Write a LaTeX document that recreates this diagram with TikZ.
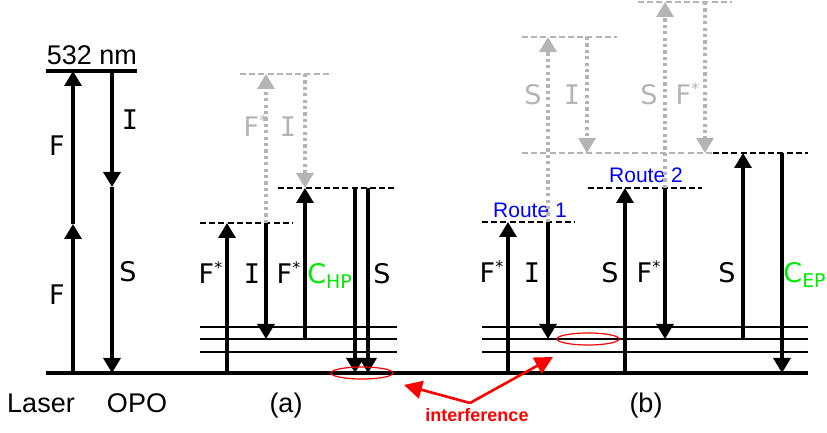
\documentclass[tikz,border=0pt]{standalone}
\usepackage{fontspec}
\setmainfont{Liberation Sans}
\newfontfamily\labfont{DejaVu Sans}
\newfontfamily\slabfont{DejaVu Sans Mono}
\newcommand{\slabI}{{\slabfont I}}
\newcommand{\fstar}{F\textsuperscript{\fontsize{8}{8}\selectfont *}}
\usetikzlibrary{arrows.meta}

\definecolor{ghostgray}{RGB}{180,180,180}
\definecolor{chgreen}{RGB}{0,235,0}
\definecolor{routeblue}{RGB}{0,0,255}
\definecolor{ifred}{RGB}{255,0,0}

\tikzset{
  ground/.style={line width=1.6pt},
  level/.style={line width=0.65pt},
  virtual/.style={line width=0.8pt, dash pattern=on 3pt off 1.6pt},
  ghostlevel/.style={virtual, draw=ghostgray},
  beam/.style={line width=1.6pt, -{Triangle[width=8.5pt,length=7.5pt]}},
  ghostbeam/.style={beam, color=ghostgray, dash pattern=on 1.6pt off 1.6pt},
  txt/.style={anchor=base, inner sep=0pt, font=\fontsize{13.5}{16}\selectfont},
  lab/.style={anchor=base, inner sep=0pt, font=\labfont\fontsize{13.5}{16}\selectfont},
  ghostlab/.style={lab, text=ghostgray},
  routelab/.style={anchor=base, inner sep=0pt, text=routeblue, font=\fontsize{10.5}{12}\selectfont},
  ring/.style={draw=ifred, line width=0.6pt},
  ifarrow/.style={draw=ifred, line width=1.3pt, -{Triangle[width=9pt,length=9pt]}, color=ifred}
}

\begin{document}
\begin{tikzpicture}[x=0.5pt,y=-0.5pt]
  \useasboundingbox (0,0) rectangle (827,433);

  % ground state
  \draw[ground] (46,373) -- (808,373);

  % Laser and OPO
  \draw[ground] (46,71) -- (137,71);
  \node[txt] (nm) at (92,65) {532 nm};
  \draw[beam] (73,373) -- (73,224);
  \draw[beam] (73,224) -- (73,71);
  \draw[beam] (112,71) -- (112,187);
  \draw[beam] (112,187) -- (112,373);
  \node[lab] (lasF1) at (57,156) {F};
  \node[lab] (lasF2) at (57,305) {F};
  \node[lab] (opoI) at (130,130) {\slabI};
  \node[lab] (opoS) at (128,282) {S};
  \node[txt] (laser) at (41,413) {Laser};
  \node[txt] (opo) at (137,413) {OPO};

  % (a) levels
  \foreach \y in {327,339,352}
    \draw[level] (200,\y) -- (397,\y);
  \draw[virtual] (200,223) -- (293,223);
  \draw[virtual] (278,188) -- (394,188);
  \draw[ghostlevel] (240,74) -- (332,74);

  % (a) transitions
  \draw[beam] (227,373) -- (227,223);
  \draw[ghostbeam] (266,223) -- (266,74);
  \draw[beam] (266,223) -- (266,339);
  \draw[ghostbeam] (305,74) -- (305,188);
  \draw[beam] (305,339) -- (305,188);
  \draw[beam] (355,188) -- (355,373);
  \draw[beam] (368,188) -- (368,373);
  \node[lab] (aF1) at (211,284) {\fstar};
  \node[lab] (aI) at (252,284) {\slabI};
  \node[lab] (aF2) at (289,284) {\fstar};
  \node[lab, text=chgreen] (aC) at (330,284) {C\textsubscript{HP}};
  \node[lab] (aS) at (382,284) {S};
  \node[ghostlab] (agF) at (256,137) {\fstar};
  \node[ghostlab] (agI) at (288,137) {\slabI};
  \draw[ring] (362,373) ellipse (31 and 6);
  \node[txt] (alab) at (286,413) {(a)};

  % (b) levels
  \foreach \y in {327,339,352}
    \draw[level] (482,\y) -- (808,\y);
  \draw[virtual] (482,222) -- (575,222);
  \draw[virtual] (588,188) -- (702,188);
  \draw[ghostlevel] (522,153) -- (713,153);
  \draw[virtual] (713,153) -- (808,153);
  \draw[ghostlevel] (522,37) -- (617,37);
  \draw[ghostlevel] (638,2) -- (732,2);
  \node[routelab] (route1) at (530,218) {Route 1};
  \node[routelab] (route2) at (646,183) {Route 2};

  % (b) transitions
  \draw[beam] (508,373) -- (508,222);
  \draw[ghostbeam] (548,222) -- (548,37);
  \draw[beam] (548,222) -- (548,339);
  \draw[ghostbeam] (587,37) -- (587,153);
  \draw[beam] (625,373) -- (625,188);
  \draw[ghostbeam] (665,188) -- (665,2);
  \draw[beam] (665,188) -- (665,339);
  \draw[ghostbeam] (705,2) -- (705,153);
  \draw[beam] (743,339) -- (743,153);
  \draw[beam] (782,153) -- (782,373);
  \node[lab] (bF1) at (492,283) {\fstar};
  \node[lab] (bI) at (532,283) {\slabI};
  \node[lab] (bS1) at (610,283) {S};
  \node[lab] (bF2) at (649,283) {\fstar};
  \node[lab] (bS2) at (727,283) {S};
  \node[lab, text=chgreen] (bC) at (805,283) {C\textsubscript{EP}};
  \node[ghostlab] (bgS1) at (533,105) {S};
  \node[ghostlab] (bgI) at (572,105) {\slabI};
  \node[ghostlab] (bgS2) at (649,105) {S};
  \node[ghostlab] (bgF) at (688,105) {\fstar};
  \draw[ring] (588,339) ellipse (31 and 6);
  \node[txt] (blab) at (646,413) {(b)};

  % interference
  \node[anchor=base, inner sep=0pt, text=ifred, font=\fontsize{9}{11}\selectfont\bfseries] (intf) at (477,422) {interference};
  \coordinate (intfsrc) at (470,403);
  \coordinate (tipa) at (404,385);
  \coordinate (tipb) at (553,357);
  \draw[ifarrow] (intfsrc) -- (tipa);
  \draw[ifarrow] (intfsrc) -- (tipb);
\end{tikzpicture}
\end{document}
